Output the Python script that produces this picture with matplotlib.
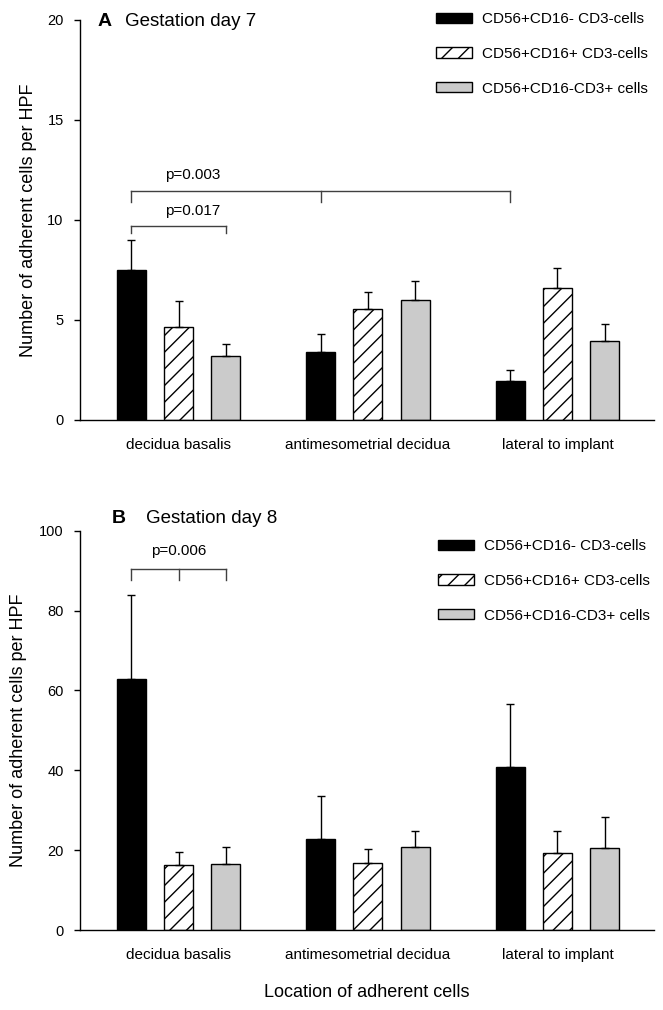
import matplotlib

matplotlib.use("Agg")
import matplotlib.pyplot as plt
import numpy as np

plt.rcParams["font.family"] = ["Liberation Sans", "DejaVu Sans"]

LOCATIONS = ["decidua basalis", "antimesometrial decidua", "lateral to implant"]
CELL_TYPES = ["CD56+CD16- CD3-cells", "CD56+CD16+ CD3-cells", "CD56+CD16-CD3+ cells"]

# gestation day 7, mean and upper error per location
DAY7_NK = [7.5, 3.4, 1.95]
DAY7_NK_ERR = [1.5, 0.9, 0.55]
DAY7_CD16 = [4.65, 5.55, 6.6]
DAY7_CD16_ERR = [1.28, 0.86, 0.99]
DAY7_NKT = [3.2, 6.0, 3.95]
DAY7_NKT_ERR = [0.6, 0.96, 0.83]

# gestation day 8
DAY8_NK = [62.8, 22.8, 40.9]
DAY8_NK_ERR = [21.1, 10.7, 15.7]
DAY8_CD16 = [16.3, 16.9, 19.4]
DAY8_CD16_ERR = [3.3, 3.35, 5.45]
DAY8_NKT = [16.65, 20.9, 20.6]
DAY8_NKT_ERR = [4.25, 3.95, 7.7]

# significance brackets: (location, cell type) pairs, bar height, tick drop, label, label x, label height
DAY7_BRACKETS = [
    ([(0, 0), (1, 0), (2, 0)], 11.45, 0.55, "p=0.003", 0.074, 12.25),
    ([(0, 0), (0, 2)], 9.68, 0.35, "p=0.017", 0.074, 10.45),
]
DAY8_BRACKETS = [
    ([(0, 0), (0, 1), (0, 2)], 90.4, 2.7, "p=0.006", 0.0, 95.0),
]

FILLS = ["black", "white", "#cbcbcb"]
HATCHES = [None, "//", None]
OFFSETS = [-0.25, 0.0, 0.25]
BAR_WIDTH = 0.153


def draw_panel(ax, means, errs, brackets, ymax, ystep):
    x = np.arange(len(LOCATIONS))
    for i, (vals, err) in enumerate(zip(means, errs)):
        ax.bar(
            x + OFFSETS[i],
            vals,
            width=BAR_WIDTH,
            color=FILLS[i],
            hatch=HATCHES[i],
            edgecolor="black",
            linewidth=1.0,
            yerr=[np.zeros(len(err)), err],
            capsize=3,
            error_kw={"elinewidth": 1.0, "capthick": 1.0, "ecolor": "black"},
            label=CELL_TYPES[i],
        )

    for pairs, y, drop, label, label_x, label_y in brackets:
        xs = [g + OFFSETS[s] for g, s in pairs]
        ax.plot([xs[0], xs[-1]], [y, y], color="#404040", lw=1.0)
        for xi in xs:
            ax.plot([xi, xi], [y, y - drop], color="#404040", lw=1.0)
        ax.text(label_x, label_y, label, ha="center", va="center", fontsize=11)

    ax.set_xlim(-0.52, 2.51)
    ax.set_ylim(0, ymax)
    ax.set_yticks(np.arange(0, ymax + 1, ystep))
    ax.set_xticks(x)
    ax.set_xticklabels(LOCATIONS, fontsize=11)
    ax.tick_params(axis="x", length=0, pad=13)
    ax.tick_params(axis="y", direction="out", length=4.3, width=1.0, pad=7.5, labelsize=10.5)
    ax.spines["top"].set_visible(False)
    ax.spines["right"].set_visible(False)
    ax.spines["left"].set_linewidth(1.0)
    ax.spines["bottom"].set_linewidth(1.0)
    ax.set_ylabel("Number of adherent cells per HPF", fontsize=13)


def add_legend(ax, fig, anchor):
    ax.legend(
        loc="upper left", bbox_to_anchor=anchor, bbox_transform=fig.transFigure,
        frameon=False, borderpad=0, borderaxespad=0, fontsize=11,
        handlelength=2.35, handleheight=0.65, handletextpad=0.65, labelspacing=1.36,
    )


def main() -> int:
    fig = plt.figure(figsize=(6.63, 10.10), dpi=100)

    ax_a = fig.add_axes([0.1207, 0.5842, 0.8658, 0.396])
    draw_panel(
        ax_a,
        [DAY7_NK, DAY7_CD16, DAY7_NKT],
        [DAY7_NK_ERR, DAY7_CD16_ERR, DAY7_NKT_ERR],
        DAY7_BRACKETS,
        20, 5,
    )
    ax_a.yaxis.set_label_coords(-0.075, 0.5)
    ax_a.text(0.03, 0.995, "A", transform=ax_a.transAxes, fontsize=14,
              fontweight="bold", va="center", ha="left")
    ax_a.text(0.078, 0.995, "Gestation day 7", transform=ax_a.transAxes,
              fontsize=13.5, va="center", ha="left")
    add_legend(ax_a, fig, (0.6576, 0.988))

    ax_b = fig.add_axes([0.1207, 0.0792, 0.8658, 0.3953])
    draw_panel(
        ax_b,
        [DAY8_NK, DAY8_CD16, DAY8_NKT],
        [DAY8_NK_ERR, DAY8_CD16_ERR, DAY8_NKT_ERR],
        DAY8_BRACKETS,
        100, 20,
    )
    ax_b.yaxis.set_label_coords(-0.092, 0.5)
    ax_b.text(0.056, 1.03, "B", transform=ax_b.transAxes, fontsize=14,
              fontweight="bold", va="center", ha="left")
    ax_b.text(0.115, 1.03, "Gestation day 8", transform=ax_b.transAxes,
              fontsize=13.5, va="center", ha="left")
    add_legend(ax_b, fig, (0.6606, 0.4663))
    ax_b.set_xlabel("Location of adherent cells", fontsize=13)
    ax_b.xaxis.set_label_coords(0.5, -0.135)

    fig.savefig("out.png", dpi=100)
    plt.close(fig)
    return 0


if __name__ == "__main__":
    raise SystemExit(main())
